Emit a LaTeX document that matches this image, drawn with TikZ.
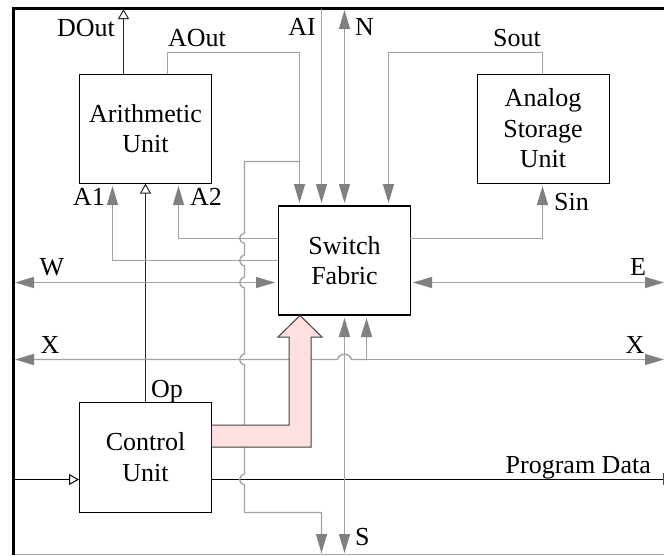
\documentclass[tikz,border=0pt]{standalone}
\usepackage{fontspec}
\setmainfont{Liberation Serif}
\usetikzlibrary{arrows.meta}
\definecolor{wire}{gray}{0.64}
\definecolor{tip}{gray}{0.5}
\definecolor{busfill}{HTML}{FFE0E0}
\tikzset{
  unitbox/.style={draw=black,line width=0.9pt,fill=white,inner sep=0pt,align=center,font=\fontsize{26}{30.5}\selectfont},
  lab/.style={font=\fontsize{26}{30.5}\selectfont,inner sep=0pt,text=black},
  gw/.style={draw=wire,line width=1.35pt},
  bw/.style={draw=black!85,line width=1pt},
  tg/.style={-{Triangle[length=19pt,width=11pt,color=tip]}},
  gtg/.style={{Triangle[length=19pt,width=11pt,color=tip]}-{Triangle[length=19pt,width=11pt,color=tip]}},
  ot/.style={-{Triangle[length=10pt,width=11pt,open,fill=white,line width=1pt]}}
}
\begin{document}
\begin{tikzpicture}[x=1pt,y=-1pt]
\useasboundingbox (0,0) rectangle (664,555);
% frame
\draw[wire,line width=1pt] (13,7) -- (664,7) (13,554.5) -- (664,554.5);
\draw[black,line width=3pt] (13,555) -- (13,8.5) -- (664,8.5);
% free ends
\coordinate (aiT) at (321.5,9);
\coordinate (nT) at (344.5,10);
\coordinate (sB) at (344.5,553);
\coordinate (s2B) at (321.5,553);
\coordinate (wL) at (15,282.5);
\coordinate (eR) at (664,282.5);
\coordinate (xL) at (15,359.5);
\coordinate (xR) at (664,359.5);
\coordinate (pdL) at (15,479.5);
\coordinate (pdR) at (663,479.5);
\coordinate (doT) at (123.5,9);
% boxes
\node[unitbox,minimum width=132pt,minimum height=109pt] (au) at (145.5,128.5) {Arithmetic\\Unit};
\node[unitbox,minimum width=132pt,minimum height=109pt] (asu) at (543,128.5) {Analog\\Storage\\Unit};
\node[unitbox,line width=1.1pt,minimum width=132pt,minimum height=109pt] (sf) at (344.5,260.5) {Switch\\Fabric};
\node[unitbox,minimum width=132pt,minimum height=110pt] (cu) at (145.5,457) {Control\\Unit};
% black wires under the hops
\draw[bw,ot] (123.5,74) -- (doT);
\draw[bw,ot] (145.5,402) -- (145.5,183.5);
\draw[black,line width=0.9pt,ot] (pdL) -- (79,479.5);
\draw[black,line width=0.9pt] (cu.east |- 0,479.5) -- (pdR);
\draw[black!70,line width=0.9pt] (663,473) -- (663,485);
% thin gray wires
\draw[gw,tg] (167.5,74) -- (167.5,52.5) -- (299.5,52.5) -- (299.5,203);
\draw[gw,tg] (aiT) -- (321.5,203);
\draw[gw,gtg] (nT) -- (344.5,203);
\draw[gw,tg] (542.5,74) -- (542.5,52.5) -- (388.5,52.5) -- (388.5,203);
\draw[gw,tg] (410,238.5) -- (542.5,238.5) -- (542.5,186);
\draw[gw,tg] (278,238.5) -- (178.5,238.5) -- (178.5,186);
\draw[gw,tg] (278,260.5) -- (112.5,260.5) -- (112.5,186);
\draw[gw,gtg] (wL) -- (275,282.5);
\draw[gw,gtg] (413,282.5) -- (eR);
\draw[gw] (299.5,161.5) -- (244.5,161.5) -- (244.5,233)
  .. controls (238,235) and (238,241.5) .. (244.5,243.5) -- (244.5,255)
  .. controls (238,257) and (238,264) .. (244.5,266) -- (244.5,277)
  .. controls (238,279) and (238,286) .. (244.5,288) -- (244.5,354)
  .. controls (238,356) and (238,363) .. (244.5,365) -- (244.5,474)
  .. controls (238,476) and (238,483) .. (244.5,485) -- (244.5,512.5) -- (321.5,512.5) -- (s2B);
\draw[gw,tg] (321.5,512.5) -- (s2B);
\draw[gw,{Triangle[length=19pt,width=11pt,color=tip]}-] (xL) -- (337.5,359.5)
  .. controls (339.5,352) and (349.5,352) .. (351.5,359.5) -- (366.5,359.5);
\draw[gw,tg] (351.5,359.5) -- (xR);
\draw[gw,tg] (366.5,359.5) -- (366.5,318);
\draw[gw,gtg] (sB) -- (344.5,318);
% bus
\draw[draw=black!75,line width=1pt,fill=busfill] (cu.east |- 0,425) -- (289,425) -- (289,337) -- (278,337) -- (300,315.5) -- (322,337) -- (311,337) -- (311,447) -- (cu.east |- 0,447);
% labels
\node[lab,anchor=base east] at (115,36) {DOut};
\node[lab,anchor=base west] at (168,46.5) {AOut};
\node[lab,anchor=base] at (302,35) {AI};
\node[lab,anchor=base west] at (355,35) {N};
\node[lab,anchor=base] at (517,46.5) {Sout};
\node[lab,anchor=base east] at (105,205) {A1};
\node[lab,anchor=base west] at (190,205) {A2};
\node[lab,anchor=base west] at (554,210.5) {Sin};
\node[lab,anchor=base] at (52,275) {W};
\node[lab,anchor=base] at (638,275) {E};
\node[lab,anchor=base] at (50,353) {X};
\node[lab,anchor=base] at (635,353) {X};
\node[lab,anchor=base] at (167,397) {Op};
\node[lab,anchor=base east] at (651,473) {Program Data};
\node[lab,anchor=base west] at (355,545) {S};
\end{tikzpicture}
\end{document}
